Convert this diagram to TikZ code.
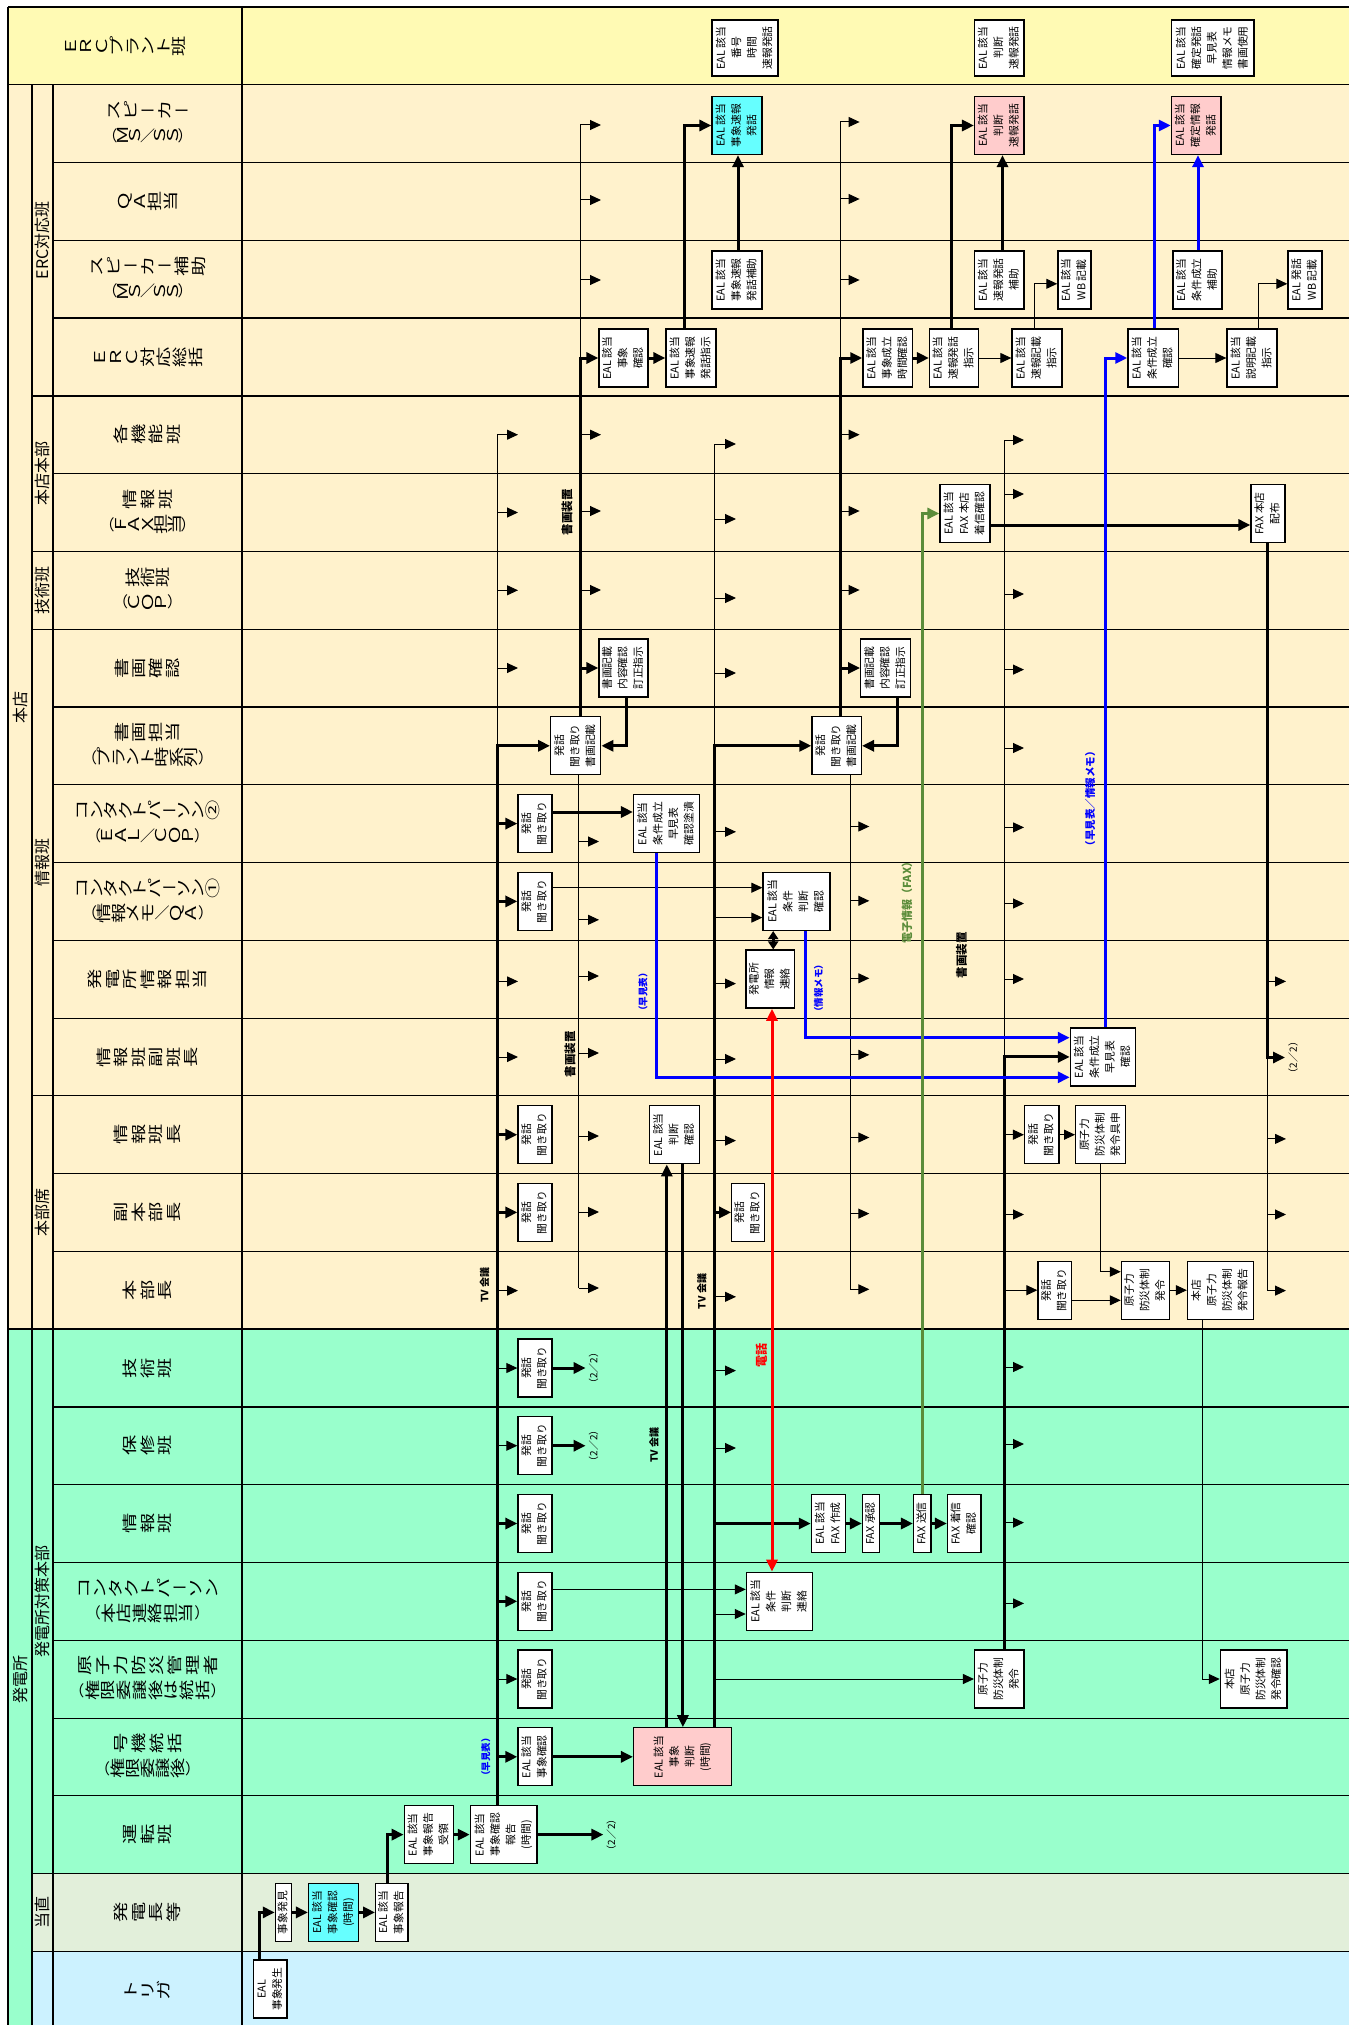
\documentclass[tikz,border=0pt]{standalone}
\usepackage{fontspec}
\setmainfont{Noto Sans CJK JP}
\usepackage{graphicx}
\usetikzlibrary{arrows.meta}
\definecolor{cplant}{HTML}{FFFAB4}
\definecolor{choten}{HTML}{FFF2CC}
\definecolor{cgreen}{HTML}{99FFCC}
\definecolor{ctoch}{HTML}{E2EFDA}
\definecolor{ctrig}{HTML}{CCF2FF}
\definecolor{ccyan}{HTML}{66FFFF}
\definecolor{cpink}{HTML}{FFCCCC}
\definecolor{cblue}{HTML}{0000FF}
\definecolor{cred}{HTML}{FF0000}
\definecolor{cgrn}{HTML}{5B8C3A}
\makeatletter
\newcommand\vtext[2][17]{\def\vt@pitch{#1pt}\vt@loop#2\vt@end}
\def\vt@end{\vt@end@x}
\def\vt@loop#1{\ifx#1\vt@end\else\vt@char#1\expandafter\vt@loop\fi}
\def\vt@char#1{%
  \ifx#1（\vt@up{#1}\else
  \ifx#1）\vt@up{#1}\else
  \ifx#1ー\vt@up{#1}\else
  \ifx#1／\vt@up{#1}\else
  \vt@rot{#1}\fi\fi\fi\fi}
\def\vt@up#1{\makebox[\vt@pitch]{#1}}
\def\vt@rot#1{\makebox[\vt@pitch]{\rotatebox[origin=c]{90}{\makebox[1.35em]{\rule[-0.12em]{0pt}{1em}\scalebox{1.35}[1]{#1}}}}}
\makeatother
\newcommand\bt[1]{\rotatebox{90}{\begin{tabular}{@{}c@{}}#1\end{tabular}}}
\newcommand\BX[6][]{\node[box,#1,minimum width={#4-#3}] (#2) at ({(#3+#4)/2},#5) {\bt{#6}};}
\begin{document}
\begin{tikzpicture}[x=1pt,y=-1pt,
  box/.style={draw, line width=1.3pt, fill=white, inner sep=0pt, minimum height=58pt, font=\fontsize{10.8}{15.5}\selectfont},
  hdr/.style={inner sep=0pt, font=\fontsize{15}{25}\selectfont},
  grp/.style={inner sep=0pt, rotate=90, font=\fontsize{16}{16}\selectfont},
  tk/.style={line width=3pt},
  tn/.style={line width=1pt},
  atk/.style={line width=3pt, -{Triangle[length=12pt,width=11pt]}},
  atn/.style={line width=1pt, -{Triangle[length=11pt,width=10pt]}},
  abl/.style={line width=3pt, cblue, -{Triangle[length=12pt,width=11pt]}},
  ared/.style={line width=3pt, cred, {Triangle[length=12pt,width=11pt]}-{Triangle[length=12pt,width=11pt]}},
  agr/.style={line width=3pt, cgrn, -{Triangle[length=12pt,width=11pt]}},
  adbl/.style={line width=3pt, {Triangle[length=8pt,width=10pt]}-{Triangle[length=8pt,width=10pt]}},
  lbl/.style={inner sep=0pt, rotate=90, font=\bfseries\fontsize{10}{10}\selectfont},
  twotwo/.style={inner sep=3pt, font=\fontsize{10}{10}\selectfont},
  rowk/.style={line width=1.3pt},
  rown/.style={line width=0.7pt},
]
\useasboundingbox (0,0) rectangle (1349,2025);
% ---------- backgrounds ----------
\fill[cplant] (8,7) rectangle (1349,84.77);
\fill[choten] (8,84.77) rectangle (1349,1329.09);
\fill[cgreen] (8,1329.09) rectangle (1349,2025);
\fill[ctoch] (32,1873.48) rectangle (1349,1951.25);
\fill[ctrig] (32,1951.25) rectangle (1349,2025);
% ---------- table lines ----------
\draw[rowk] (8,7) -- (1349,7);
\foreach \k in {1,17} \draw[rowk] (8,{7+77.77*\k}) -- (1349,{7+77.77*\k});
\foreach \k in {5,7,8,14,24,25} \draw[rowk] (32,{7+77.77*\k}) -- (1349,{7+77.77*\k});
\foreach \k in {2,3,4,6,9,10,11,12,18,20,21,23} \draw[rowk] (53,{7+77.77*\k}) -- (1349,{7+77.77*\k});
\foreach \k in {13,15,16,19,22} \draw[rown] (53,{7+77.77*\k}) -- (1349,{7+77.77*\k});
\draw[rowk] (8,7) -- (8,2025);
\draw[rowk] (32,84.77) -- (32,2025);
\draw[rowk] (53,84.77) -- (53,2025);
\draw[rowk] (242,7) -- (242,2025);
% ---------- group labels ----------
\node[grp] (g0) at (20,707) {本店};
\node[grp] (g1) at (20,1679) {発電所};
\node[grp] (g2) at (42.5,240.3) {ERC対応班};
\node[grp] (g3) at (42.5,473.6) {本店本部};
\node[grp] (g4) at (42.5,590.3) {技術班};
\node[grp] (g5) at (42.5,862.5) {情報班};
\node[grp] (g6) at (42.5,1212.4) {本部席};
\node[grp] (g7) at (42.5,1601.3) {発電所対策本部};
\node[grp] (g8) at (42.5,1912.4) {当直};
% ---------- row headers ----------
\node[hdr] (h0) at (125,45.9) {\vtext[15.5]{ＥＲＣプラント班}};
\node[hdr] (h1) at (147.5,123.7) {\begin{tabular}{@{}c@{}}\vtext[17]{スピーカー}\\\vtext[12.5]{（ＭＳ／ＳＳ）}\end{tabular}};
\node[hdr] (h2) at (147.5,201.4) {\vtext[15.5]{ＱＡ担当}};
\node[hdr] (h3) at (147.5,279.2) {\begin{tabular}{@{}c@{}}\vtext[17]{スピーカー補助}\\\vtext[12.5]{（ＭＳ／ＳＳ）}\end{tabular}};
\node[hdr] (h4) at (147.5,357.0) {\vtext[16]{ＥＲＣ対応総括}};
\node[hdr] (h5) at (147.5,434.7) {\vtext[17.5]{各機能班}};
\node[hdr] (h6) at (147.5,512.5) {\begin{tabular}{@{}c@{}}\vtext[18]{情報班}\\\vtext[13.5]{（ＦＡＸ担当）}\end{tabular}};
\node[hdr] (h7) at (147.5,590.3) {\begin{tabular}{@{}c@{}}\vtext[15]{技術班}\\\vtext[13.5]{（ＣＯＰ）}\end{tabular}};
\node[hdr] (h8) at (147.5,668.0) {\vtext[17]{書画確認}};
\node[hdr] (h9) at (147.5,745.8) {\begin{tabular}{@{}c@{}}\vtext[17]{書画担当}\\\vtext[14.5]{（プラント時系列）}\end{tabular}};
\node[hdr] (h10) at (147.5,823.6) {\begin{tabular}{@{}c@{}}\vtext[14.5]{コンタクトパーソン②}\\\vtext[13.5]{（ＥＡＬ／ＣＯＰ）}\end{tabular}};
\node[hdr] (h11) at (147.5,901.4) {\begin{tabular}{@{}c@{}}\vtext[14.5]{コンタクトパーソン①}\\\vtext[14.5]{（情報メモ／ＱＡ）}\end{tabular}};
\node[hdr] (h12) at (147.5,979.1) {\vtext[17.5]{発電所情報担当}};
\node[hdr] (h13) at (147.5,1056.9) {\vtext[17.5]{情報班副班長}};
\node[hdr] (h14) at (147.5,1134.7) {\vtext[17.5]{情報班長}};
\node[hdr] (h15) at (147.5,1212.4) {\vtext[17.5]{副本部長}};
\node[hdr] (h16) at (147.5,1290.2) {\vtext[17.5]{本部長}};
\node[hdr] (h17) at (147.5,1368.0) {\vtext[17.5]{技術班}};
\node[hdr] (h18) at (147.5,1445.7) {\vtext[17.5]{保修班}};
\node[hdr] (h19) at (147.5,1523.5) {\vtext[17.5]{情報班}};
\node[hdr] (h20) at (147.5,1601.3) {\begin{tabular}{@{}c@{}}\vtext[16]{コンタクトパーソン}\\\vtext[15.5]{（本店連絡担当）}\end{tabular}};
\node[hdr] (h21) at (147.5,1679.0) {\begin{tabular}{@{}c@{}}\vtext[18]{原子力防災管理者}\\\vtext[15.7]{（権限委譲後は統括）}\end{tabular}};
\node[hdr] (h22) at (147.5,1756.8) {\begin{tabular}{@{}c@{}}\vtext[18]{号機統括}\\\vtext[15]{（権限委譲後）}\end{tabular}};
\node[hdr] (h23) at (147.5,1834.6) {\vtext[17.5]{運転班}};
\node[hdr] (h24) at (147.5,1912.4) {\vtext[17.5]{発電長等}};
\node[hdr] (h25) at (147.5,1990.0) {\vtext[16.7]{トリガ}};
% ---------- boxes ----------
\BX{B1}{253.6}{287}{1989}{EAL\\事象発生}
\BX{B2}{275.4}{291.8}{1912.4}{事象発見}
\BX[fill=ccyan]{B3}{308.6}{358.6}{1912.4}{EAL 該当\\事象確認\\(時間)}
\BX{B4}{375.7}{407.9}{1912.4}{EAL 該当\\事象報告}
\BX{B5}{404.3}{453.6}{1834.6}{EAL 該当\\事象報告\\受領}
\BX{B6}{470.4}{537.1}{1834.6}{EAL 該当\\事象確認\\報告\\(時間)}
\BX{B7}{518}{552}{1756.8}{EAL 該当\\事象確認}
\BX[fill=cpink]{B8}{633.6}{731.8}{1756.8}{EAL 該当\\事象\\判断\\(時間)}
\BX{B9}{518}{552}{1368.0}{発話\\聞き取り}
\BX{B10}{518}{552}{1445.7}{発話\\聞き取り}
\BX{B11}{518}{552}{1523.5}{発話\\聞き取り}
\BX{B12}{518}{552}{1601.3}{発話\\聞き取り}
\BX{B13}{518}{552}{1679.0}{発話\\聞き取り}
\BX{B14}{746.4}{812.5}{1601.3}{EAL 該当\\条件\\判断\\連絡}
\BX{B15}{811.4}{845.4}{1523.5}{EAL 該当\\FAX 作成}
\BX{B16}{862.5}{879.3}{1523.5}{FAX 承認}
\BX{B17}{913.6}{931}{1523.5}{FAX 送信}
\BX{B18}{947.5}{981}{1523.5}{FAX 着信\\確認}
\BX{B19}{974.6}{1024}{1679.0}{原子力\\防災体制\\発令}
\BX{B20}{1220.4}{1287}{1679.0}{本店\\原子力\\防災体制\\発令確認}
\BX{B21}{1038}{1071.4}{1290.2}{発話\\聞き取り}
\BX{B22}{1121.4}{1169.6}{1290.2}{原子力\\防災体制\\発令}
\BX{B23}{1187.5}{1253.2}{1290.2}{本店\\原子力\\防災体制\\発令報告}
\BX{B24}{518}{552}{1134.7}{発話\\聞き取り}
\BX{B25}{649.6}{699.6}{1134.7}{EAL 該当\\判断\\確認}
\BX{B26}{1024.6}{1059}{1134.7}{発話\\聞き取り}
\BX{B27}{1075.7}{1125.7}{1134.7}{原子力\\防災体制\\発令具申}
\BX{B28}{518}{552}{1212.4}{発話\\聞き取り}
\BX{B29}{731.8}{764.3}{1212.4}{発話\\聞き取り}
\BX{B30}{1070.4}{1135.7}{1056.9}{EAL 該当\\条件成立\\早見表\\確認}
\BX{B31}{746}{794.6}{979.1}{発電所\\情報\\連絡}
\BX{B32}{518}{552}{901.4}{発話\\聞き取り}
\BX{B33}{763}{830}{901.4}{EAL 該当\\条件\\判断\\確認}
\BX{B34}{518}{552}{823.6}{発話\\聞き取り}
\BX{B35}{633.6}{699.6}{823.6}{EAL 該当\\条件成立\\早見表\\確認塗潰}
\BX{B36}{550.7}{600.7}{745.8}{発話\\聞き取り\\書画記載}
\BX{B37}{812}{861.4}{745.8}{発話\\聞き取り\\書画記載}
\BX{B38}{599}{648}{668.0}{書画記載\\内容確認\\訂正指示}
\BX{B39}{860.7}{910.7}{668.0}{書画記載\\内容確認\\訂正指示}
\BX{B40}{940}{990}{513.5}{EAL 該当\\FAX 本店\\着信確認}
\BX{B41}{1251}{1285}{513.5}{FAX 本店\\配布}
\BX{B42}{599}{648}{358}{EAL 該当\\事象\\確認}
\BX{B43}{666}{716}{358}{EAL 該当\\事象速報\\発話指示}
\BX{B44}{862.9}{912.5}{358}{EAL 該当\\事象成立\\時間確認}
\BX{B45}{929.6}{978.6}{358}{EAL 該当\\速報発話\\指示}
\BX{B46}{1012}{1062}{358}{EAL 該当\\速報記載\\指示}
\BX{B47}{1127.9}{1178.2}{358}{EAL 該当\\条件成立\\確認}
\BX{B48}{1227}{1277}{358}{EAL 該当\\説明記載\\指示}
\BX{B49}{712}{762}{280}{EAL 該当\\事象速報\\発話補助}
\BX{B50}{974.6}{1024}{280}{EAL 該当\\速報発話\\補助}
\BX{B51}{1057.9}{1091}{280}{EAL 該当\\WB 記載}
\BX{B52}{1173}{1222}{280}{EAL 該当\\条件成立\\補助}
\BX{B53}{1288}{1322}{280}{EAL 発話\\WB 記載}
\BX[fill=ccyan]{B54}{712}{762}{125.5}{EAL 該当\\事象速報\\発話}
\BX[fill=cpink]{B55}{974.6}{1024}{125.5}{EAL 該当\\判断\\速報発話}
\BX[fill=cpink]{B56}{1171.4}{1221}{125.5}{EAL 該当\\確定情報\\発話}
\BX[minimum height=56pt]{B57}{712}{778}{48}{EAL 該当\\番号\\時間\\速報発話}
\BX[minimum height=56pt]{B58}{974.6}{1024}{48}{EAL 該当\\判断\\速報発話}
\BX[minimum height=56pt]{B59}{1171.4}{1254}{48}{EAL 該当\\確定発話\\早見表\\情報メモ\\書画使用}
% ---------- (2/2) labels ----------
\node[twotwo] (t1) at (611.4,1834.6) {\rotatebox{90}{（2／2）}};
\node[twotwo] (t2) at (593.6,1368.0) {\rotatebox{90}{（2／2）}};
\node[twotwo] (t3) at (593.6,1445.7) {\rotatebox{90}{（2／2）}};
\node[twotwo] (t4) at (1293,1057.5) {\rotatebox{90}{（2／2）}};
% ---------- buses ----------
% V1 (TV会議)
\draw[tn] (497,434.7) -- (497,745.8);
\draw[atk] (B6.north -| 497,0) -- (B36.west -| 497,0) -- (B36.west);
\foreach \yy in {434.7,512.5,590.3,668,981.4,1057,1290.6} \draw[atn] (497,\yy) -- (518,\yy);
\foreach \nm in {B34,B32,B24,B28,B11,B12,B7} \draw[atk] (\nm.west -| 497,0) -- (\nm.west);
\foreach \nm in {B9,B10,B13} \draw[atn] (\nm.west -| 497,0) -- (\nm.west);
% V2 (書画装置)
\draw[tn] (580.4,125) -- (580.4,358);
\draw[atk] (B36.north -| 580.4,0) -- (B42.west -| 580.4,0) -- (B42.west);
\foreach \yy in {125,200,280,434.7,511,590} \draw[atn] (580.4,\yy) -- (601,\yy);
\draw[atk] (B38.west -| 580.4,0) -- (B38.west);
% V3
\draw[tn] (B36.south -| 578.6,0) -- (578.6,1288);
\foreach \yy in {841.5,919.8,976,1053,1136,1212,1288} \draw[atn] (578.6,\yy) -- (599,\yy);
% V4 (TV会議 2)
\draw[tn] (714,444) -- (714,745.8);
\draw[atk] (B8.north -| 714,0) -- (B37.west -| 714,0) -- (B37.west);
\foreach \yy in {444,519,598,673,831.8,983.6,1059,1140.6,1296.8,1370.6,1448} \draw[atn] (714,\yy) -- (736,\yy);
\draw[atn] (714,917.6) -- (B33.west |- 0,917.6);
\draw[atk] (B29.west -| 714,0) -- (B29.west);
\draw[atk] (B15.west -| 714,0) -- (B15.west);
\draw[atn] (714,1614) -- (B14.west |- 0,1614);
\draw[atn] (B19.west -| 714,0) -- (B19.west);
% V5
\draw[tn] (840,122) -- (840,358);
\draw[atk] (B37.north -| 840,0) -- (B44.west -| 840,0) -- (B44.west);
\foreach \yy in {122,199,280,434.7,511,590} \draw[atn] (840,\yy) -- (859.6,\yy);
\draw[atk] (B39.west -| 840,0) -- (B39.west);
% V6
\draw[tn] (B37.south -| 850,0) -- (850,1289.3);
\foreach \yy in {826.5,900.8,978.3,1054.8,1137.5,1213.6,1289.3} \draw[atn] (850,\yy) -- (869.3,\yy);
% V7
\draw[tn] (1004.3,440) -- (1004.3,1057);
\draw[atk] (B19.north -| 1004.3,0) -- (B30.west -| 1004.3,0) -- (B30.west);
\foreach \yy in {440,494,594,669.6,748,827.4,903.5,979,1214.5,1367,1444,1522.6,1603.4} \draw[atn] (1004.3,\yy) -- (1024,\yy);
\draw[atn] (B26.west -| 1004.3,0) -- (B26.west);
\draw[atn] (B21.west -| 1004.3,0) -- (B21.west);
% V8
\draw[atk] (B41.south -| 1267,0) -- (t4.west -| 1267,0) -- (t4.west);
\draw[tn] (1267,1057.5) -- (1267,1290.6);
\foreach \yy in {981.4,1138.9,1214.5,1290.6} \draw[atn] (1267,\yy) -- (1286,\yy);
% ---------- connectors ----------
\draw[atk] (B1.north -| 259.6,0) |- (B2.west);
\draw[atk] (B2.east) -- (B3.west);
\draw[atk] (B3.east) -- (B4.west);
\draw[atk] (B4.north -| 387.5,0) |- (B5.west);
\draw[atk] (B5.east) -- (B6.west);
\draw[atk] (B6.east) -- (t1.west);
\draw[atk] (B7.east) -- (B8.west);
\draw[atk] (B8.north -| 666.8,0) -- (B25.south -| 666.8,0);
\draw[atk] (B25.south -| 682.9,0) -- (B8.north -| 682.9,0);
\draw[atk] (B9.east) -- (t2.west);
\draw[atk] (B10.east) -- (t3.west);
\draw[atn] (B12.east |- 0,1589.4) -- (B14.west |- 0,1589.4);
\draw[atk] (B15.east) -- (B16.west);
\draw[atk] (B16.east) -- (B17.west);
\draw[atk] (B17.east) -- (B18.west);
\draw[atn] (B26.east) -- (B27.west);
\draw[atn] (B27.south -| 1100,0) |- (B22.west |- 0,1271.7);
\draw[atn] (B21.east |- 0,1300.3) -- (B22.west |- 0,1300.3);
\draw[atn] (B22.east) -- (B23.west);
\draw[atn] (B23.south -| 1202.5,0) |- (B20.west);
\draw[atk] (B34.east |- 0,812) -- (B35.west |- 0,812);
\draw[atn] (B32.east |- 0,887.7) -- (B33.west |- 0,887.7);
\draw[atk] (B38.south -| 626.8,0) |- (B36.east);
\draw[atk] (B39.south -| 897,0) |- (B37.east);
\draw[atk] (B42.east) -- (B43.west);
\draw[atk] (B43.north -| 684.6,0) |- (B54.west);
\draw[atk] (B49.north -| 738,0) -- (B54.south -| 738,0);
\draw[atk] (B44.east) -- (B45.west);
\draw[atk] (B45.north -| 951.4,0) |- (B55.west);
\draw[atn] (B45.east) -- (B46.west);
\draw[atk] (B50.north -| 1002.5,0) -- (B55.south -| 1002.5,0);
\draw[atn] (B46.north -| 1034.3,0) |- (B51.west |- 0,283.8);
\draw[atn] (B47.east) -- (B48.west);
\draw[atn] (B48.north -| 1258,0) |- (B53.west |- 0,283.8);
\draw[atk] (B40.east |- 0,525) -- (B41.west |- 0,525);
\draw[abl] (B47.north -| 1154.3,0) |- (B56.west);
\draw[abl] (B52.north -| 1198,0) -- (B56.south -| 1198,0);
\draw[abl] (B30.north -| 1105,0) |- (B47.west);
\draw[abl] (B35.south -| 656.8,0) |- (B30.west |- 0,1077.3);
\draw[abl] (B33.south -| 805.4,0) |- (B30.west |- 0,1037.7);
\draw[ared] (B31.south -| 772,0) -- (B14.north -| 772,0);
\draw[adbl] (B33.south -| 773.2,0) -- (B31.north -| 773.2,0);
\draw[agr] (B17.north -| 922.9,0) |- (B40.west);
% ---------- text labels ----------
\node[lbl] (l1) at (484.6,1285) {TV 会議};
\node[lbl] (l2) at (701.8,1291.5) {TV 会議};
\node[lbl] (l3) at (654,1445) {TV 会議};
\node[lbl, font=\bfseries\fontsize{11.5}{11.5}\selectfont] (l4) at (567,512) {書画装置};
\node[lbl, font=\bfseries\fontsize{11.5}{11.5}\selectfont] (l5) at (570,1054) {書画装置};
\node[lbl, font=\bfseries\fontsize{11.5}{11.5}\selectfont] (l6) at (961.4,955) {書画装置};
\node[lbl, text=cblue, font=\bfseries\fontsize{9.5}{9.5}\selectfont] (l7) at (643,992) {（早見表）};
\node[lbl, text=cblue, font=\bfseries\fontsize{9.5}{9.5}\selectfont] (l8) at (485.7,1757) {（早見表）};
\node[lbl, text=cblue, font=\bfseries\fontsize{9.5}{9.5}\selectfont] (l9) at (818.6,988) {（情報メモ）};
\node[lbl, text=cblue, font=\bfseries\fontsize{10.5}{10.5}\selectfont] (l10) at (1090,798.8) {（早見表／情報メモ）};
\node[lbl, text=cgrn, font=\bfseries\fontsize{11}{11}\selectfont] (l11) at (907,900) {電子情報（FAX）};
\node[lbl, text=cred, font=\bfseries\fontsize{12}{12}\selectfont] (l12) at (761.4,1355) {電話};
\end{tikzpicture}
\end{document}
